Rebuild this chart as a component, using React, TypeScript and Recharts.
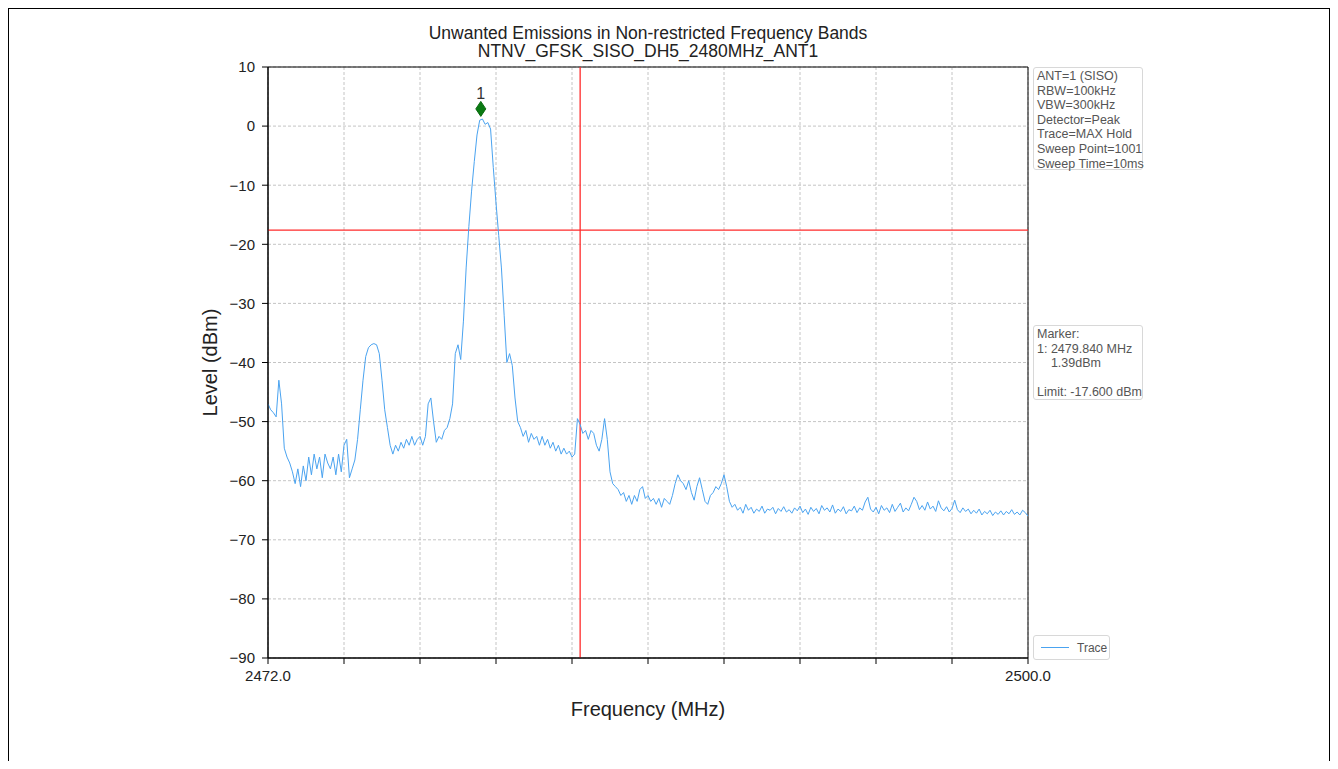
import React from 'react';
import {
  CartesianGrid,
  Label,
  Line,
  LineChart,
  ReferenceArea,
  ReferenceDot,
  ReferenceLine,
  XAxis,
  YAxis,
} from 'recharts';

// sweep grid of the trace (MHz)
const sweepStartMHz = 2472.0;
const sweepStepMHz = 0.1;

// trace levels (dBm), one per sweep step
const traceLevels = [
  -47, -48, -48.5, -49.2, -43, -47, -54.5, -56, -57, -58.5,
  -60.5, -58, -61, -57.5, -60, -56, -59, -55.5, -58, -56,
  -59.5, -55.5, -57, -58, -56, -59, -55.5, -58.5, -54, -53,
  -59.5, -58, -56.5, -53, -48, -43, -39, -37.5, -37, -36.8,
  -37, -38.5, -43, -48, -51, -54, -55.5, -54, -55, -53.5,
  -54.5, -53, -54, -52.5, -54, -53, -52.5, -54, -52.5, -47,
  -46, -50, -53.5, -52.5, -53, -51.5, -51, -49.5, -47, -38.5,
  -37, -39.5, -33, -24, -17, -11, -6, -1.5, 1.0, 1.2,
  0.3, 0.6, -0.5, -7, -13, -18.5, -24, -32, -40, -38.5,
  -40.5, -46, -50, -51, -52.5, -51.5, -53.5, -52, -53, -52.5,
  -54, -52.5, -54, -53, -54.5, -53.5, -55, -54, -55.5, -54.5,
  -55.5, -55, -56, -55.5, -49.5, -50.5, -52, -51.5, -53, -51.5,
  -52, -54, -55, -53, -49.5, -53, -58.5, -60.5, -61, -61.5,
  -62.5, -62, -63.5, -62.5, -64, -62.5, -63.5, -61.5, -61, -63,
  -62.5, -63.5, -63, -64, -63, -64.5, -63, -63.5, -64, -62.5,
  -60.5, -59, -60, -60.5, -61.5, -60, -62, -63.3, -61, -59.5,
  -61.5, -63.5, -64, -62.5, -62, -61, -61.5, -60.5, -59, -61,
  -63.5, -64.5, -64, -65, -64.5, -65.5, -64, -65, -64.5, -65.5,
  -64.8, -65.2, -64.3, -65.5, -64.8, -65, -64.5, -65.6, -64.7, -65.2,
  -64.4, -65.3, -64.9, -65.5, -64.6, -65.1, -64.3, -65.4, -64.8, -65.7,
  -64.5, -65.2, -64.7, -65.6, -64.2, -65, -64.6, -65.3, -64.1, -65.5,
  -64.8, -65.2, -64.4, -65.6, -64.9, -65.1, -64.3, -65.4, -64.6, -65,
  -63.6, -62.8, -64.8, -65.3, -64.5, -65.6, -64.2, -65, -64.6, -65.4,
  -64, -65.2, -64.5, -63.8, -65.3, -64.6, -65.1, -64, -62.8, -63.5,
  -64.9, -64.2, -65, -63.6, -64.8, -64.3, -65.2, -63.4, -64.6, -65.1,
  -64.4, -65.3, -64.7, -63.3, -64.9, -65.4, -64.6, -65.2, -64.8, -65.6,
  -65, -65.5, -64.8, -65.8, -65.2, -65.6, -65, -65.9, -65.3, -65.7,
  -65.1, -65.8, -65.2, -65.6, -64.9, -65.7, -65.3, -65.8, -65, -65.4,
  -66,
];

const xTicks = [2472.0, 2474.8, 2477.6, 2480.4, 2483.2, 2486.0, 2488.8, 2491.6, 2494.4, 2497.2, 2500.0];
const xLabelTicks = [2472.0, 2500.0];
const yTicks = [-90, -80, -70, -60, -50, -40, -30, -20, -10, 0, 10];

const limitDbm = -17.6;
const bandEdgeMHz = 2483.5;
const markerFreqMHz = 2479.84;
const markerLevelDbm = 1.39;

const titleLines = ['Unwanted Emissions in Non-restricted Frequency Bands', 'NTNV_GFSK_SISO_DH5_2480MHz_ANT1'];
const settingLines = [
  'ANT=1 (SISO)',
  'RBW=100kHz',
  'VBW=300kHz',
  'Detector=Peak',
  'Trace=MAX Hold',
  'Sweep Point=1001',
  'Sweep Time=10ms',
];
const markerLines = ['Marker:', '1: 2479.840 MHz', '    1.39dBm', ' ', 'Limit: -17.600 dBm'];

const data = traceLevels.map((level, i) => ({
  freq: +(sweepStartMHz + i * sweepStepMHz).toFixed(1),
  level,
}));

const FONT = '"Liberation Sans", Arial, sans-serif';
const TRACE_COLOR = '#4aa3f0';

const boxStyle: React.CSSProperties = {
  position: 'absolute',
  left: 1025,
  width: 110,
  boxSizing: 'border-box',
  border: '1px solid #d8d8d8',
  borderRadius: 3,
  padding: '1px 0 0 3px',
  fontFamily: FONT,
  fontSize: 12.5,
  lineHeight: '14.6px',
  color: '#555',
  whiteSpace: 'pre',
  background: '#fff',
};

const minus = (v: number) => String(v).replace('-', '\u2212');

const MarkerShape = (props: any) => {
  const { cx, cy } = props;
  const y = cy - 9;
  return (
    <g>
      <polygon points={`${cx},${y - 7.5} ${cx + 5},${y} ${cx},${y + 7.5} ${cx - 5},${y}`} fill="#0a7a12" stroke="#0a6a10" />
      <text x={cx} y={y - 10} textAnchor="middle" fontSize={16} fontFamily={FONT} fill="#333">
        1
      </text>
    </g>
  );
};

export default function App() {
  return (
    <div style={{ position: 'relative', width: 1322, height: 753, background: '#fff', overflow: 'hidden' }}>
      <div
        style={{
          position: 'absolute',
          left: 0,
          top: 0,
          width: 1322,
          height: 753,
          boxSizing: 'border-box',
          borderTop: '1px solid #000',
          borderLeft: '1px solid #000',
          borderRight: '1px solid #000',
        }}
      />
      <div
        style={{
          position: 'absolute',
          left: 260,
          top: 16,
          width: 760,
          textAlign: 'center',
          fontFamily: FONT,
          fontSize: 17.5,
          lineHeight: '18px',
          color: '#222',
        }}
      >
        {titleLines.map((t) => (
          <div key={t}>{t}</div>
        ))}
      </div>
      <LineChart
        width={1322}
        height={753}
        data={data}
        margin={{ top: 59, right: 302, left: 200, bottom: 73 }}
        style={{ position: 'absolute', left: 0, top: 0 }}
      >
        <CartesianGrid stroke="#b5b5b5" strokeDasharray="3 2" strokeWidth={0.8} />
        <XAxis
          dataKey="freq"
          type="number"
          domain={[2472, 2500]}
          ticks={xTicks}
          allowDataOverflow
          height={30}
          stroke="#000"
          tickSize={6}
          tickMargin={6}
          tick={{ fontSize: 15, fill: '#222', fontFamily: FONT }}
          tickFormatter={(v: number) => (xLabelTicks.includes(v) ? v.toFixed(1) : '')}
        >
          <Label
            content={({ viewBox }: any) => (
              <text
                x={viewBox.x + viewBox.width / 2}
                y={viewBox.y + 58}
                textAnchor="middle"
                fontSize={20}
                fontFamily={FONT}
                fill="#222"
              >
                Frequency (MHz)
              </text>
            )}
          />
        </XAxis>
        <YAxis
          type="number"
          domain={[-90, 10]}
          ticks={yTicks}
          allowDataOverflow
          width={60}
          stroke="#000"
          tickSize={6}
          tickMargin={7}
          tick={{ fontSize: 15, fill: '#222', fontFamily: FONT }}
          tickFormatter={minus}
        >
          <Label
            content={({ viewBox }: any) => {
              const x = viewBox.x + 2;
              const y = viewBox.y + viewBox.height / 2;
              return (
                <text
                  x={x}
                  y={y}
                  transform={`rotate(-90 ${x} ${y})`}
                  textAnchor="middle"
                  dominantBaseline="central"
                  fontSize={20}
                  fontFamily={FONT}
                  fill="#222"
                >
                  Level (dBm)
                </text>
              );
            }}
          />
        </YAxis>
        <ReferenceArea x1={2472} x2={2500} y1={-90} y2={10} fill="none" stroke="#000" strokeWidth={1} />
        <ReferenceLine y={limitDbm} stroke="#ff2b2b" strokeWidth={1.3} />
        <ReferenceLine x={bandEdgeMHz} stroke="#ff2b2b" strokeWidth={1.3} />
        <Line
          type="linear"
          dataKey="level"
          name="Trace"
          stroke={TRACE_COLOR}
          strokeWidth={1}
          dot={false}
          isAnimationActive={false}
        />
        <ReferenceDot x={markerFreqMHz} y={markerLevelDbm} r={5} shape={MarkerShape} />
      </LineChart>
      <div style={{ ...boxStyle, top: 59, height: 103 }}>
        {settingLines.map((t) => (
          <div key={t}>{t}</div>
        ))}
      </div>
      <div style={{ ...boxStyle, top: 317, height: 75 }}>
        {markerLines.map((t, i) => (
          <div key={i}>{t}</div>
        ))}
      </div>
      <div
        style={{
          position: 'absolute',
          left: 1025,
          top: 627,
          width: 77,
          height: 25,
          boxSizing: 'border-box',
          border: '1px solid #d8d8d8',
          borderRadius: 3,
          display: 'flex',
          alignItems: 'center',
          gap: 8,
          paddingLeft: 7,
          fontFamily: FONT,
          fontSize: 12,
          color: '#555',
          background: '#fff',
        }}
      >
        <div style={{ width: 28, height: 0, borderTop: `1.5px solid ${TRACE_COLOR}` }} />
        <span>Trace</span>
      </div>
    </div>
  );
}
